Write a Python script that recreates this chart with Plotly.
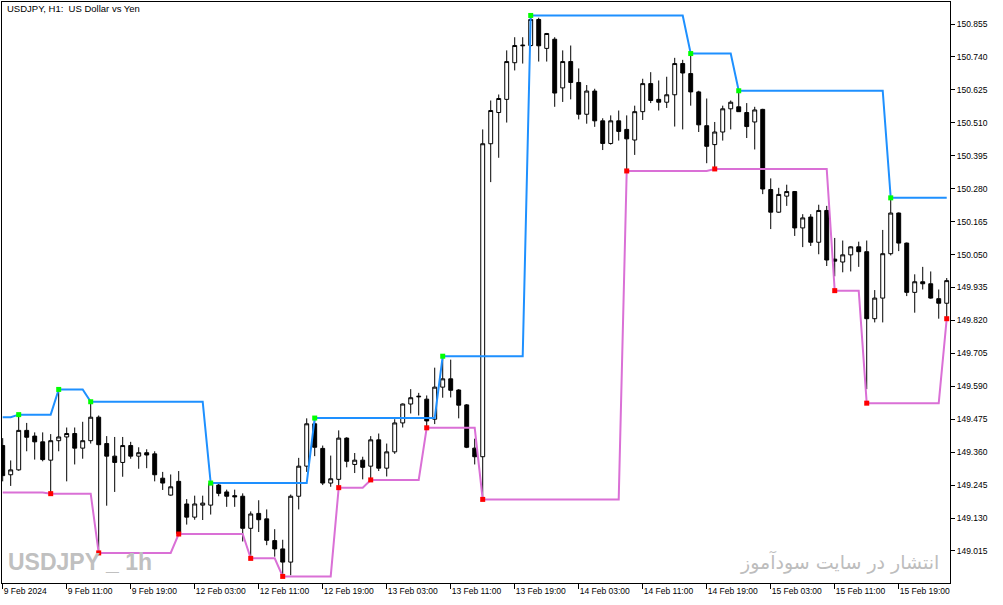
import plotly.graph_objects as go

# ---- data (USDJPY H1) ----
bar_index = list(range(119))

opens = [149.383, 149.281, 149.298, 149.436, 149.416, 149.396, 149.332, 149.400, 149.413, 149.425,
         149.374, 149.400, 149.482, 149.390, 149.346, 149.324, 149.383, 149.346, 149.358, 149.354,
         149.269, 149.210, 149.258, 149.179, 149.133, 149.175, 149.175, 149.245, 149.221, 149.208,
         149.206, 149.094, 149.146, 149.127, 149.051, 149.022, 148.976, 149.206, 149.311, 149.459,
         149.373, 149.252, 149.265, 149.409, 149.317, 149.332, 149.311, 149.403, 149.304, 149.361,
         149.462, 149.528, 149.553, 149.545, 149.475, 149.587, 149.616, 149.577, 149.525, 149.374,
         149.344, 150.437, 150.546, 150.592, 150.720, 150.779, 150.780, 150.871, 150.770, 150.802,
         150.632, 150.724, 150.651, 150.540, 150.621, 150.517, 150.438, 150.517, 150.487, 150.450,
         150.549, 150.647, 150.592, 150.582, 150.608, 150.717, 150.682, 150.618, 150.500, 150.434,
         150.478, 150.559, 150.566, 150.546, 150.513, 150.557, 150.277, 150.198, 150.254, 150.270,
         150.143, 150.181, 150.093, 150.204, 150.034, 150.024, 150.049, 150.077, 150.060, 149.826,
         149.898, 150.053, 150.195, 150.090, 149.918, 149.955, 149.948, 149.896, 149.880]
highs = [149.409, 149.331, 149.491, 149.462, 149.429, 149.429, 149.423, 149.579, 149.446, 149.446,
         149.466, 149.536, 149.488, 149.416, 149.413, 149.413, 149.396, 149.377, 149.370, 149.363,
         149.291, 149.282, 149.294, 149.196, 149.208, 149.208, 149.252, 149.252, 149.229, 149.229,
         149.216, 149.153, 149.192, 149.160, 149.091, 149.054, 149.212, 149.340, 149.478, 149.481,
         149.383, 149.348, 149.436, 149.412, 149.357, 149.344, 149.416, 149.425, 149.390, 149.475,
         149.530, 149.580, 149.567, 149.558, 149.655, 149.695, 149.683, 149.580, 149.528, 149.407,
         150.487, 150.588, 150.609, 150.763, 150.809, 150.809, 150.885, 150.877, 150.824, 150.809,
         150.763, 150.780, 150.700, 150.642, 150.629, 150.526, 150.536, 150.553, 150.536, 150.570,
         150.664, 150.687, 150.658, 150.671, 150.737, 150.730, 150.752, 150.622, 150.595, 150.513,
         150.570, 150.588, 150.622, 150.579, 150.566, 150.559, 150.316, 150.283, 150.294, 150.272,
         150.191, 150.191, 150.224, 150.220, 150.108, 150.099, 150.079, 150.095, 150.099, 149.926,
         150.136, 150.248, 150.197, 150.092, 149.981, 150.007, 149.991, 149.928, 149.968]
lows = [149.258, 149.242, 149.295, 149.363, 149.334, 149.328, 149.215, 149.363, 149.258, 149.317,
        149.337, 149.390, 149.008, 149.173, 149.221, 149.274, 149.337, 149.302, 149.304, 149.258,
        149.228, 149.208, 149.074, 149.107, 149.124, 149.123, 149.142, 149.206, 149.169, 149.169,
        149.048, 148.989, 149.081, 149.035, 148.995, 148.926, 148.930, 149.160, 149.291, 149.346,
        149.245, 149.239, 149.236, 149.307, 149.287, 149.265, 149.263, 149.294, 149.275, 149.354,
        149.446, 149.495, 149.488, 149.445, 149.458, 149.550, 149.551, 149.478, 149.374, 149.317,
        149.200, 150.303, 150.388, 150.511, 150.693, 150.717, 150.776, 150.724, 150.724, 150.566,
        150.583, 150.592, 150.522, 150.507, 150.496, 150.415, 150.434, 150.448, 150.342, 150.398,
        150.520, 150.579, 150.553, 150.562, 150.497, 150.487, 150.570, 150.478, 150.369, 150.349,
        150.448, 150.487, 150.548, 150.457, 150.417, 150.261, 150.139, 150.196, 150.220, 150.115,
        150.076, 150.080, 150.051, 150.010, 149.974, 149.988, 149.991, 150.007, 149.580, 149.813,
        149.813, 150.047, 150.062, 149.905, 149.847, 149.928, 149.896, 149.826, 149.826]
closes = [149.278, 149.298, 149.436, 149.412, 149.396, 149.334, 149.400, 149.413, 149.425, 149.374,
          149.400, 149.482, 149.386, 149.346, 149.324, 149.383, 149.346, 149.358, 149.350, 149.281,
          149.252, 149.239, 149.076, 149.133, 149.179, 149.182, 149.250, 149.216, 149.206, 149.204,
          149.094, 149.144, 149.124, 149.052, 149.022, 148.976, 149.206, 149.311, 149.459, 149.377,
          149.252, 149.267, 149.409, 149.328, 149.332, 149.307, 149.403, 149.304, 149.361, 149.462,
          149.528, 149.550, 149.555, 149.469, 149.587, 149.616, 149.576, 149.524, 149.377, 149.344,
          150.437, 150.553, 150.595, 150.724, 150.780, 150.781, 150.871, 150.779, 150.822, 150.614,
          150.724, 150.651, 150.540, 150.621, 150.517, 150.438, 150.517, 150.480, 150.454, 150.549,
          150.647, 150.588, 150.582, 150.608, 150.717, 150.684, 150.618, 150.503, 150.428, 150.478,
          150.559, 150.582, 150.549, 150.497, 150.555, 150.279, 150.198, 150.260, 150.270, 150.143,
          150.178, 150.093, 150.204, 150.031, 150.027, 150.049, 150.077, 150.060, 149.826, 149.898,
          150.053, 150.195, 150.090, 149.918, 149.955, 149.948, 149.898, 149.880, 149.959]

# swing levels of the channel indicator
high_level_start = 149.482
swing_high_idx = [2, 7, 11, 26, 39, 55, 66, 86, 92, 111]
swing_high_val = [149.491, 149.579, 149.536, 149.252, 149.479, 149.695, 150.885, 150.752, 150.622, 150.248]
low_level_start = 149.219
swing_low_idx = [6, 12, 22, 31, 35, 42, 46, 53, 60, 78, 89, 104, 108, 118]
swing_low_val = [149.215, 149.008, 149.074, 148.989, 148.926, 149.236, 149.263, 149.445, 149.195,
                 150.342, 150.349, 149.924, 149.531, 149.826]

x_tick_idx = [0, 8, 16, 24, 32, 40, 48, 56, 64, 72, 80, 88, 96, 104, 112]
x_tick_text = ["9 Feb 2024", "9 Feb 11:00", "9 Feb 19:00", "12 Feb 03:00", "12 Feb 11:00",
               "12 Feb 19:00", "13 Feb 03:00", "13 Feb 11:00", "13 Feb 19:00", "14 Feb 03:00",
               "14 Feb 11:00", "14 Feb 19:00", "15 Feb 03:00", "15 Feb 11:00", "15 Feb 19:00"]
y_tick_text = ["149.015", "149.130", "149.245", "149.360", "149.475", "149.590", "149.705",
               "149.820", "149.935", "150.050", "150.165", "150.280", "150.395", "150.510",
               "150.625", "150.740", "150.855"]
y_tick_vals = [float(t) for t in y_tick_text]

title_text = "USDJPY, H1:  US Dollar vs Yen"
watermark_left = "USDJPY _ 1h"
watermark_right = "انتشار در سایت سودآموز"


def step_levels(n, start, idxs, vals):
    out, cur, k = [], start, 0
    for i in range(n):
        if k < len(idxs) and idxs[k] == i:
            cur = vals[k]
            k += 1
        out.append(cur)
    return out


n = len(bar_index)
upper = step_levels(n, high_level_start, swing_high_idx, swing_high_val)
lower = step_levels(n, low_level_start, swing_low_idx, swing_low_val)

fig = go.Figure()
fig.add_trace(go.Candlestick(
    x=bar_index, open=opens, high=highs, low=lows, close=closes,
    increasing=dict(line=dict(color="black", width=1), fillcolor="white"),
    decreasing=dict(line=dict(color="black", width=1), fillcolor="black"),
    whiskerwidth=0, showlegend=False, hoverinfo="skip"))
fig.add_trace(go.Scatter(x=bar_index, y=upper, mode="lines",
                         line=dict(color="#1E90FF", width=2), showlegend=False, hoverinfo="skip"))
fig.add_trace(go.Scatter(x=bar_index, y=lower, mode="lines",
                         line=dict(color="#DA70D6", width=2), showlegend=False, hoverinfo="skip"))
fig.add_trace(go.Scatter(x=swing_high_idx, y=swing_high_val, mode="markers",
                         marker=dict(symbol="square", size=5, color="#00FF00", line=dict(width=0)),
                         showlegend=False, hoverinfo="skip"))
fig.add_trace(go.Scatter(x=swing_low_idx, y=swing_low_val, mode="markers",
                         marker=dict(symbol="square", size=5, color="#FF0000", line=dict(width=0)),
                         showlegend=False, hoverinfo="skip"))

tick_font = dict(family="Liberation Sans, Arial, sans-serif", size=8.5, color="black")

fig.update_layout(
    width=1003, height=605,
    margin=dict(l=2, r=53, t=2, b=22, pad=0),
    paper_bgcolor="white", plot_bgcolor="white",
    showlegend=False,
    xaxis=dict(range=[-0.0875, 118.41], showgrid=False, zeroline=False,
               showline=True, mirror=True, linecolor="black", linewidth=1,
               ticks="outside", ticklen=5, tickcolor="black", tickwidth=1,
               tickmode="array", tickvals=x_tick_idx, ticktext=x_tick_text,
               ticklabelposition="outside right", tickfont=tick_font,
               rangeslider=dict(visible=False), fixedrange=True),
    yaxis=dict(range=[148.903, 150.932], side="right", showgrid=False, zeroline=False,
               showline=True, mirror=True, linecolor="black", linewidth=1,
               ticks="outside", ticklen=4, tickcolor="black", tickwidth=1,
               tickmode="array", tickvals=y_tick_vals, ticktext=y_tick_text,
               tickfont=tick_font, fixedrange=True),
    annotations=[
        dict(text=title_text, xref="paper", yref="paper", x=0.0045, y=0.9895,
             xanchor="left", yanchor="middle", showarrow=False, borderpad=0,
             font=dict(family="Liberation Sans, Arial, sans-serif", size=9.5, color="black")),
        dict(text="<b>" + watermark_left + "</b>", xref="paper", yref="paper", x=0.005, y=0.036,
             xanchor="left", yanchor="middle", showarrow=False, borderpad=0,
             font=dict(family="Liberation Sans Narrow, Liberation Sans, Arial, sans-serif",
                       size=23, color="#C0C0C0")),
        dict(text=watermark_right, xref="paper", yref="paper", x=0.9895, y=0.036,
             xanchor="right", yanchor="middle", showarrow=False, borderpad=0,
             font=dict(family="DejaVu Sans, sans-serif", size=19, color="#BDBDBD")),
    ],
)

fig.write_html("out.html", config={"displayModeBar": False},
               post_script="document.body.style.margin='0px';document.body.style.padding='0px';")
